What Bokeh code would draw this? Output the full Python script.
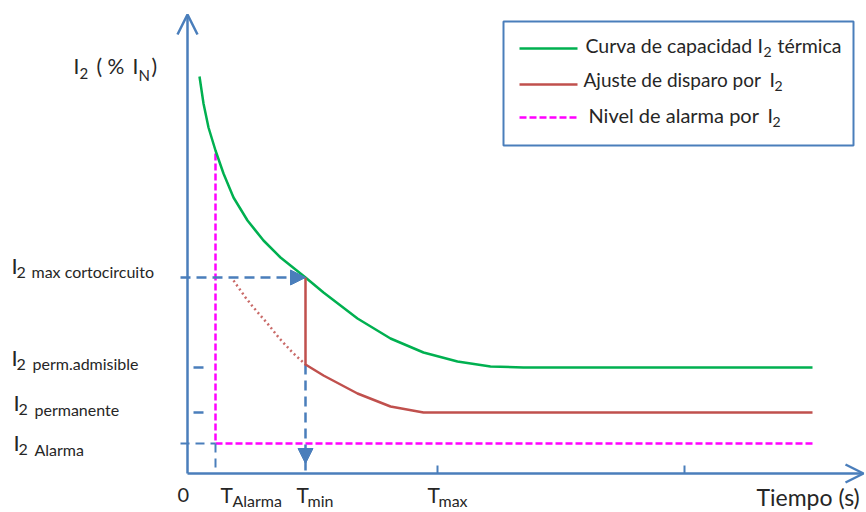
from bokeh.plotting import figure
from bokeh.models import Range1d, Arrow, OpenHead, NormalHead, Label
from bokeh.embed import file_html
from bokeh.resources import INLINE
import numpy as np

# ---------------- data (chart units: time -> x, I2 -> y) ----------------
t_capacity = [12, 16, 21, 28, 36, 46, 60, 76, 93, 118, 136, 170, 203, 236, 270, 303, 336, 363, 625]
i2_capacity = [397, 370, 346, 323, 300, 276, 253, 233, 216, 196, 181, 155, 135, 121, 112, 107, 106, 106, 106]

t_trip = [118, 118, 136, 170, 203, 236, 270, 625]
i2_trip = [196, 109, 98, 80, 67, 61, 61, 61]

t_trip_dotted = [46, 58, 66, 80, 92, 105, 118]
i2_trip_dotted = [193, 176, 166, 150, 135, 121, 109]

# named levels and times
I2_MAX_CC = 196
I2_PERM_ADM = 106
I2_PERM = 61
I2_ALARM = 30
T_ALARM = 28
T_MIN = 118
T_MAX = 250
T_TICK2 = 497
T_END = 625
T_AXIS_END = 676
I2_AXIS_END = 459

legend_labels = ["Curva de capacidad", "Ajuste de disparo por", "Nivel de alarma por"]

# ---------------- layout helpers (reference pixel -> chart units) ----------------
OX, OY = 187, 473
def X(px):
    return px - OX
def Y(py):
    return OY - py

BLUE = "#4A7EBB"
GREEN = "#00B050"
RED = "#C0504D"
MAGENTA = "#FF00FF"
TXT = "#262626"
FONT = "Lato"
BASELINE_FIX = 0.38   # Label box offset correction (fraction of font size)

p = figure(width=866, height=512, x_range=Range1d(X(0), X(866)), y_range=Range1d(Y(512), Y(0)),
           output_backend="svg", toolbar_location=None, min_border=0, title=None,
           x_axis_location=None, y_axis_location=None)
p.grid.visible = False
p.outline_line_color = None
p.background_fill_color = "white"

# axes with open arrow heads
p.add_layout(Arrow(x_start=0, y_start=0, x_end=0, y_end=I2_AXIS_END, line_color=BLUE, line_width=2.5,
                   end=OpenHead(size=20, line_color=BLUE, line_width=2.5)))
p.add_layout(Arrow(x_start=0, y_start=0, x_end=T_AXIS_END, y_end=0, line_color=BLUE, line_width=2.5,
                   end=OpenHead(size=18, line_color=BLUE, line_width=2.5)))

# ticks
p.segment(x0=[T_MAX, T_TICK2], y0=[0, 0], x1=[T_MAX, T_TICK2], y1=[8, 8], line_color=BLUE, line_width=2)
p.segment(x0=[6, 6], y0=[I2_PERM_ADM, I2_PERM], x1=[16, 16], y1=[I2_PERM_ADM, I2_PERM],
          line_color=BLUE, line_width=2.5)

# alarm level (magenta dashed)
i2_at_alarm = float(np.interp(T_ALARM, t_capacity, i2_capacity)) - 3
p.line([T_ALARM, T_ALARM], [i2_at_alarm, I2_ALARM], line_color=MAGENTA, line_width=2.5, line_dash="7 3")
p.line([T_ALARM, T_END], [I2_ALARM, I2_ALARM], line_color=MAGENTA, line_width=2.5, line_dash="7 3")

# blue dashed guides
p.line([X(180), T_ALARM], [I2_ALARM, I2_ALARM], line_color=BLUE, line_width=2, line_dash="9 6")
p.line([T_ALARM, T_ALARM], [I2_ALARM, 0], line_color=BLUE, line_width=2, line_dash="9 6")
p.line([T_MIN, T_MIN], [i2_trip[1], 0], line_color=BLUE, line_width=2.5, line_dash="10 6")
p.add_layout(Arrow(x_start=X(180), y_start=I2_MAX_CC, x_end=T_MIN, y_end=I2_MAX_CC,
                   line_color=BLUE, line_width=2.5, line_dash="10 6",
                   end=NormalHead(size=15, fill_color=BLUE, line_color=BLUE, line_width=1)))
p.add_layout(Arrow(x_start=T_MIN, y_start=Y(448), x_end=T_MIN, y_end=Y(463),
                   line_alpha=0, end=NormalHead(size=15, fill_color=BLUE, line_color=BLUE, line_width=1)))

# curves
p.line(t_capacity, i2_capacity, line_color=GREEN, line_width=2.5)
p.line(t_trip, i2_trip, line_color=RED, line_width=2.5)
p.line(t_trip_dotted, i2_trip_dotted, line_color=RED, line_width=2.5, line_dash="2 3", line_alpha=0.85)

# legend box
p.quad(left=[X(503)], right=[X(853)], top=[Y(21)], bottom=[Y(145)], fill_alpha=0,
       line_color=BLUE, line_width=2)
p.line([X(519), X(577)], [Y(48), Y(48)], line_color=GREEN, line_width=2.5)
p.line([X(519), X(577)], [Y(84), Y(84)], line_color=RED, line_width=2.5)
p.line([X(519), X(577)], [Y(117), Y(117)], line_color=MAGENTA, line_width=2.5, line_dash="7 3")

# texts: (text, px, baseline py, size)
texts = [
    # y title
    ("I", 73, 73, 21), ("2", 79, 79, 15), ("( %", 96, 73, 21), ("I", 132, 73, 21),
    ("N", 138, 80, 15), (")", 151, 73, 21),
    # y labels
    ("I", 11, 273, 22), ("2", 16, 278, 16), ("max cortocircuito", 31, 277, 16),
    ("I", 11, 365, 22), ("2", 16, 370, 16), ("perm.admisible", 32, 369, 16),
    ("I", 13, 410, 22), ("2", 18, 415, 16), ("permanente", 34, 415, 16),
    ("I", 13, 450, 22), ("2", 18, 455, 16), ("Alarma", 34, 455, 16),
    # x labels
    ("0", 177, 502, 20),
    ("T", 220, 502, 21), ("Alarma", 232, 506, 16),
    ("T", 296, 502, 21), ("min", 307, 506, 16),
    ("T", 427, 502, 21), ("max", 438, 506, 16),
    ("Tiempo (s)", 756, 505, 23),
    # legend
    (legend_labels[0], 585, 52, 19.5), ("I", 757, 52, 19.5), ("2", 763, 57, 14), ("térmica", 777, 52, 19.5),
    (legend_labels[1], 583, 86, 19), ("I", 769, 86, 19.5), ("2", 774, 91, 14),
    (legend_labels[2], 588, 122, 20), ("I", 767, 122, 19.5), ("2", 772, 127, 14),
]
for t, px, py, s in texts:
    p.add_layout(Label(x=X(px), y=Y(py) + BASELINE_FIX * s, text=t, text_font=FONT,
                       text_font_size=f"{s}px", text_color=TXT, text_align="left",
                       text_baseline="alphabetic"))

open("out.html", "w").write(file_html(p, INLINE))
